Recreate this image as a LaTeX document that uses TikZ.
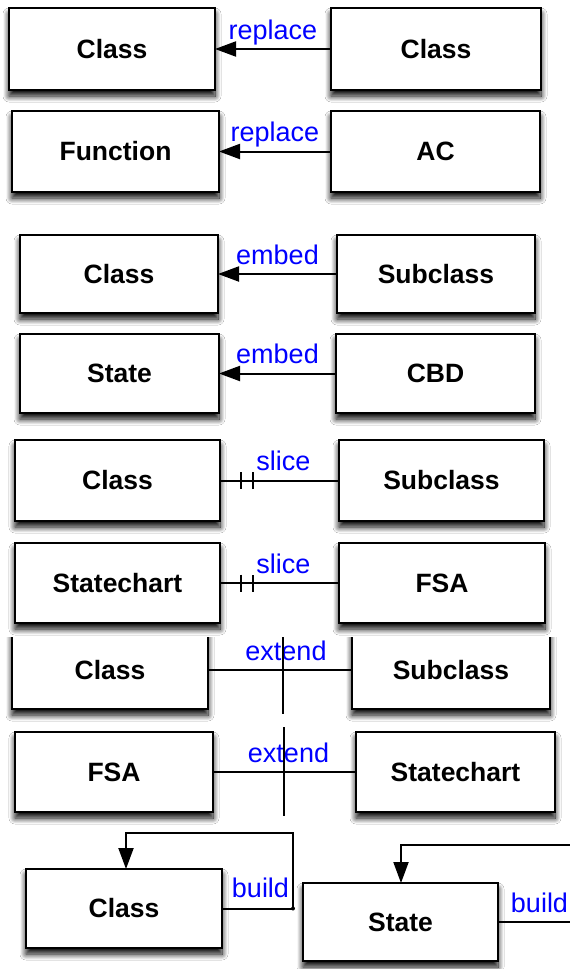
\documentclass[tikz,border=0pt]{standalone}
\usepackage{fontspec}
\setmainfont{Liberation Sans}
\usetikzlibrary{arrows.meta,shadows.blur,calc}
\newcommand\mkbox[6]{\node[box, minimum width={(#4-#2)*1pt}, minimum height={(#5-#3)*1pt}] (#1) at ({(#2+#4)/2},{(#3+#5)/2}) {#6};}
\begin{document}
\begin{tikzpicture}[x=1pt,y=-1pt,
 box/.style={draw=black, line width=2.2pt, fill=white, inner sep=0pt, outer sep=0pt,
   font=\fontsize{26.5}{30}\selectfont\bfseries,
   blur shadow={shadow xshift=0pt, shadow yshift=-6pt, shadow blur radius=6pt, shadow opacity=100, shadow blur steps=12}},
 conn/.style={line width=2pt, draw=black},
 tip/.style={-{Triangle[length=21pt,width=15pt]}},
 lbl/.style={text=blue, font=\fontsize{27}{30}\selectfont, inner sep=0pt, anchor=base, yshift=10pt}]
\useasboundingbox[fill=white] (0,0) rectangle (570,969);
% panel 1
\mkbox{a1}{9}{8}{215}{90}{Class}
\mkbox{a2}{331}{8}{541}{90}{Class}
\mkbox{a3}{12}{111}{219}{192}{Function}
\mkbox{a4}{331}{111}{540}{192}{AC}
\draw[conn,tip] (a2) -- node[lbl]{replace} (a1);
\draw[conn,tip] (a4) -- node[lbl]{replace} (a3);
% panel 2
\mkbox{b1}{20}{235}{218}{313}{Class}
\mkbox{b2}{337}{235}{535}{313}{Subclass}
\mkbox{b3}{20}{334}{219}{413}{State}
\mkbox{b4}{336}{334}{535}{413}{CBD}
\draw[conn,tip] (b2) -- node[lbl]{embed} (b1);
\draw[conn,tip] (b4) -- node[lbl]{embed} (b3);
% panel 3
\mkbox{c1}{15}{440}{220}{521}{Class}
\mkbox{c2}{339}{440}{544}{521}{Subclass}
\mkbox{c3}{15}{543}{220}{623}{Statechart}
\mkbox{c4}{339}{543}{545}{623}{FSA}
\draw[conn] (c1) -- node[lbl,xshift=4pt]{slice} (c2);
\draw[conn] ($(c1.east)+(21,-8.5)$) -- ++(0,17) ++(12,0) -- ++(0,-17);
\draw[conn] (c3) -- node[lbl,xshift=4pt]{slice} (c4);
\draw[conn] ($(c3.east)+(21,-8.5)$) -- ++(0,17) ++(12,0) -- ++(0,-17);
% panel 4
\begin{scope}
\clip (0,637) rectangle (570,830);
\mkbox{d1}{12}{631}{208}{709}{Class}
\mkbox{d2}{352}{631}{550}{709}{Subclass}
\end{scope}
\mkbox{d3}{15}{732}{213}{812}{FSA}
\mkbox{d4}{356}{732}{555}{812}{Statechart}
\draw[conn] (d1) -- node[lbl,xshift=6pt]{extend} (d2);
\draw[conn] ($(d1.east)+(75,-33)$) -- ++(0,77);
\draw[conn] (d3) -- node[lbl,xshift=4pt]{extend} (d4);
\draw[conn] ($(d3.east)+(71,-45)$) -- ++(0,89);
% panel 5
\mkbox{e1}{26}{869}{222}{948}{Class}
\mkbox{e2}{303}{883}{498}{961}{State}
\coordinate (k1) at (293,908.5);
\coordinate (t1) at (126,833);
\draw[conn,tip] (e1.east) -- node[lbl,xshift=3pt,yshift=1pt]{build} (k1) -- (k1 |- t1) -- (t1) -- (t1 |- e1.north);
\fill (k1) circle (2);
\coordinate (k2) at (575,922);
\coordinate (t2) at (401,845);
\coordinate (u2) at (575,845);
\draw[conn] (e2.east) -- node[lbl,xshift=3pt]{build} (k2);
\draw[conn,tip] (u2) -- (t2) -- (t2 |- e2.north);
\end{tikzpicture}
\end{document}
